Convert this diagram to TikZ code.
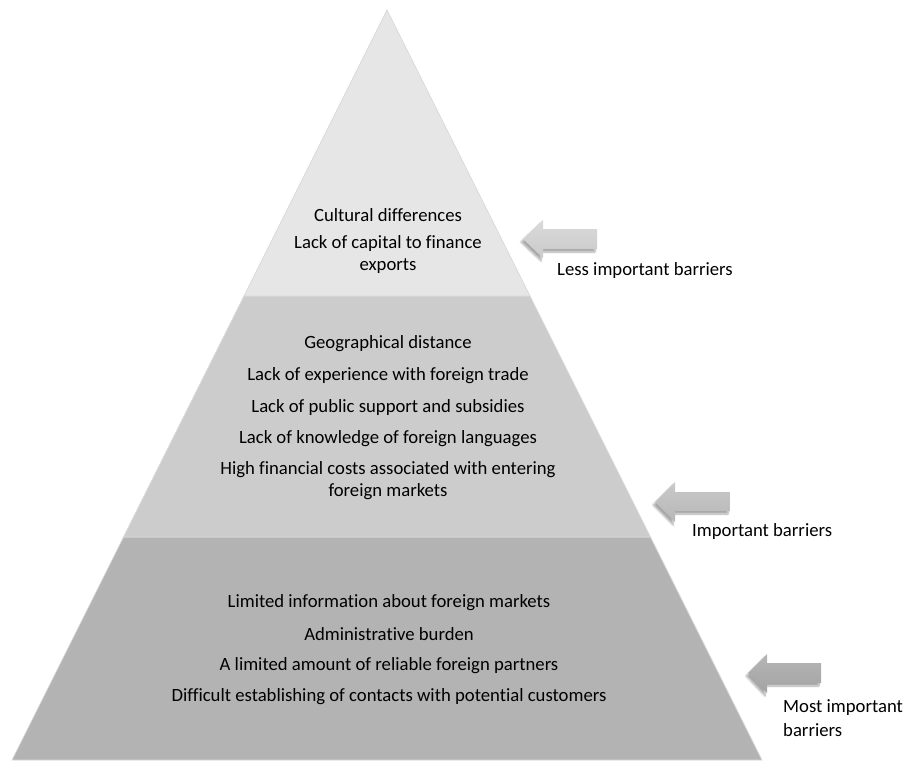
\documentclass[tikz,border=0pt]{standalone}
\usepackage{fontspec}
\setmainfont{Carlito}[Ligatures=NoCommon]
\usetikzlibrary{shadows.blur}
\definecolor{bandA}{HTML}{E6E6E6}
\definecolor{bandB}{HTML}{CCCCCC}
\definecolor{bandC}{HTML}{B3B3B3}
\definecolor{bandline}{HTML}{DADADA}
\definecolor{arrA}{HTML}{CACACA}
\definecolor{arrB}{HTML}{B7B7B7}
\definecolor{arrC}{HTML}{A3A3A3}
\tikzset{
  band/.style={draw=bandline, line width=0.8pt},
  item/.style={align=center, inner sep=0pt, font=\fontsize{18.7}{22}\selectfont, text=black},
  lbl/.style={align=left, anchor=west, inner sep=0pt, font=\fontsize{18.7}{24}\selectfont, text=black},
  blockarrow/.style={draw=none, blur shadow={shadow xshift=-2pt, shadow yshift=-3pt, shadow blur steps=6, shadow opacity=35}},
}
\begin{document}
\begin{tikzpicture}[x=1pt, y=-1pt]
\useasboundingbox (0,0) rectangle (904,760);
% pyramid bands
\path[band, fill=bandC] (123.5,537) -- (650.5,537) -- (762,760) -- (12,760) -- cycle;
\path[band, fill=bandB] (244,296) -- (530,296) -- (650.5,537) -- (123.5,537) -- cycle;
\path[band, fill=bandA] (387,10) -- (530,296) -- (244,296) -- cycle;
% top band text
\node[item] (t1) at (388,215) {Cultural differences};
\node[item] (t2) at (388,255) {Lack of capital to finance\\exports};
% middle band text
\node[item] (m1) at (388,344) {Geographical distance};
\node[item] (m2) at (388,376) {Lack of experience with foreign trade};
\node[item] (m3) at (388,408) {Lack of public support and subsidies};
\node[item] (m4) at (388,439) {Lack of knowledge of foreign languages};
\node[item] (m5) at (388,481) {High financial costs associated with entering\\foreign markets};
% bottom band text
\node[item] (b1) at (389,603) {Limited information about foreign markets};
\node[item] (b2) at (389,634) {Administrative burden};
\node[item] (b3) at (389,666) {A limited amount of reliable foreign partners};
\node[item] (b4) at (389,697) {Difficult establishing of contacts with potential customers};
% arrows
\path[blockarrow, top color=arrA!70!white, bottom color=arrA] (523,239) -- (543,220) -- (543,229) -- (597,229) -- (597,249) -- (543,249) -- (543,258) -- cycle;
\path[blockarrow, top color=arrB!75!white, bottom color=arrB] (655,502) -- (675,482) -- (675,492) -- (730,492) -- (730,511) -- (675,511) -- (675,522) -- cycle;
\path[blockarrow, top color=arrC!80!white, bottom color=arrC] (748,673) -- (767,654) -- (767,663) -- (821,663) -- (821,683) -- (767,683) -- (767,693) -- cycle;
% labels
\node[lbl] (l1) at (557,271) {Less important barriers};
\node[lbl] (l2) at (692,532) {Important barriers};
\node[lbl] (l3) at (783,718) {Most important\\barriers};
\end{tikzpicture}
\end{document}
